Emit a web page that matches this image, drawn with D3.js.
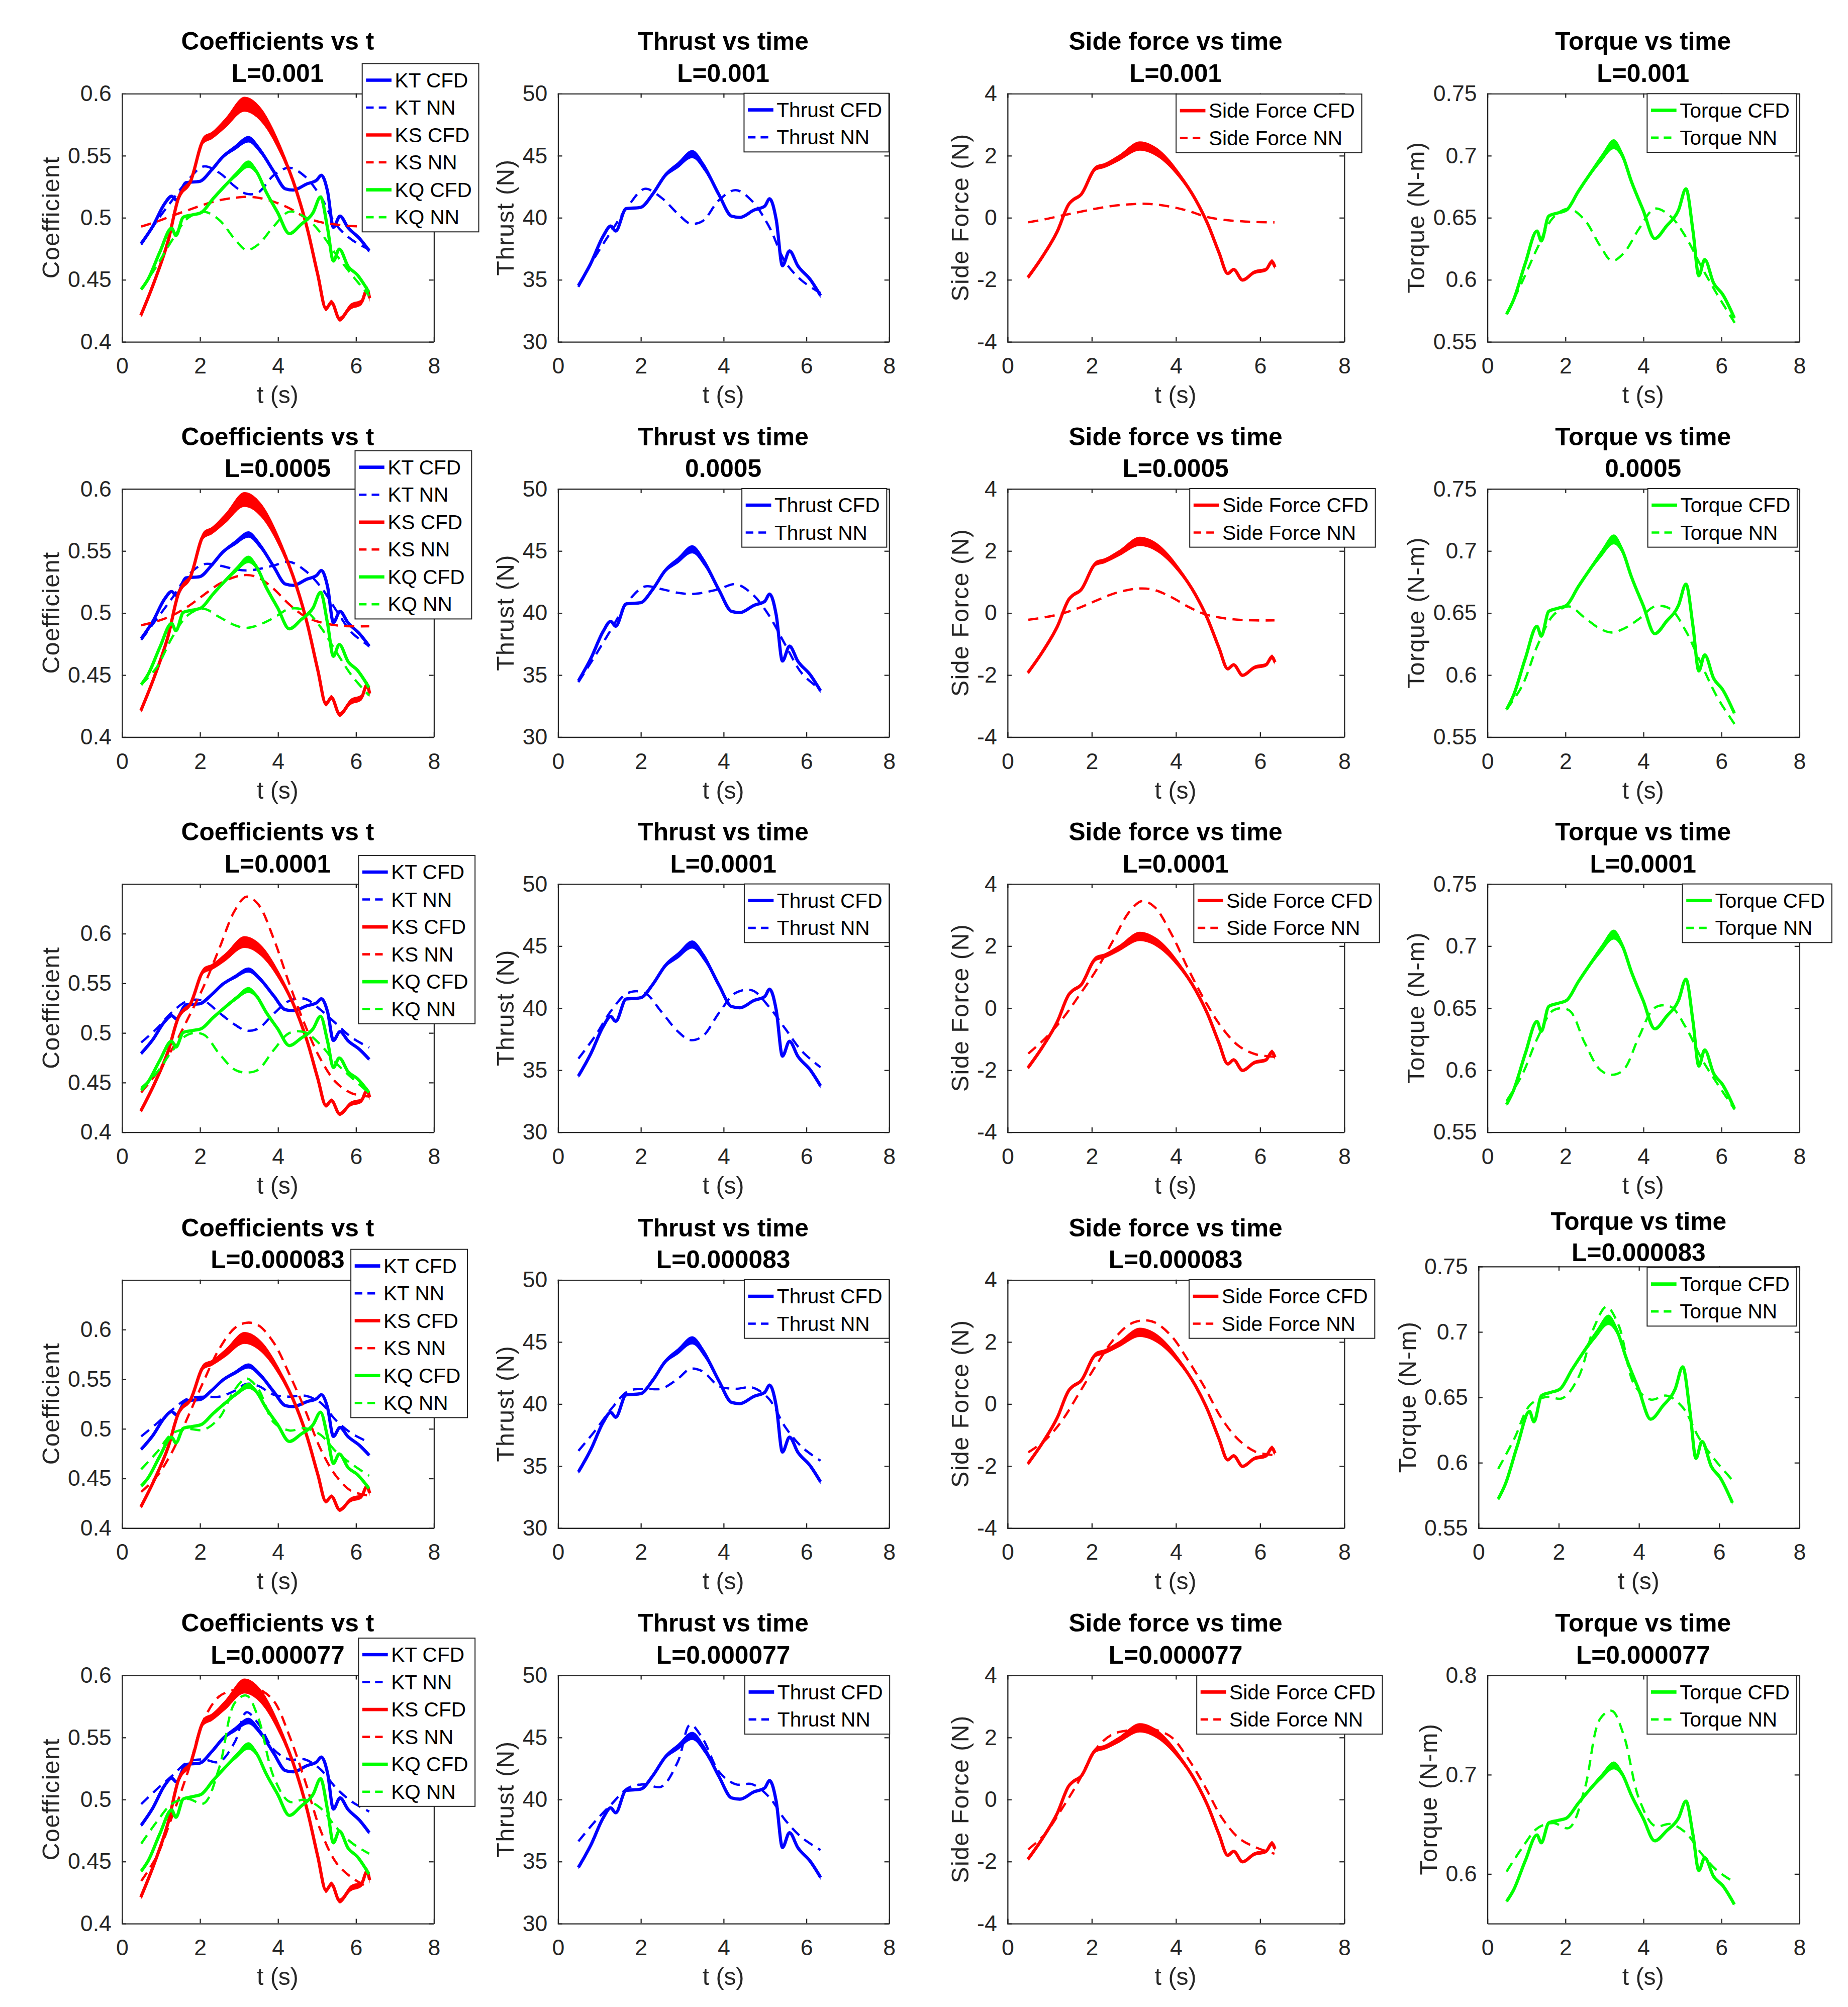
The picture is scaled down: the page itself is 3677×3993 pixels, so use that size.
<!DOCTYPE html>
<html>
<head>
<meta charset="utf-8">
<script src="https://cdn.jsdelivr.net/npm/d3@7"></script>
<style>
body{margin:0;background:#fff;}
svg{display:block;font-family:"Liberation Sans",Arial,Helvetica,sans-serif;}
</style>
</head>
<body>
<script>
// ---- CFD traces (same in every row) ----
var tThrust = [0.5,0.8,1.1,1.28,1.4,1.65,2.0,2.3,2.6,2.9,3.25,3.55,3.9,4.2,4.4,4.75,5.0,5.12,5.28,5.43,5.6,5.8,6.1,6.35];
var thrustCFD = [34.5,36.3,38.5,39.3,38.9,40.7,40.8,41.9,43.4,44.2,45.1,44.0,41.8,40.1,40.0,40.6,40.9,41.5,39.8,36.1,37.3,36.1,35.0,33.7];
var thrustSpread = [0.15,0.1,0.1,0.1,0.1,0.1,0.1,0.12,0.18,0.25,0.33,0.3,0.18,0.1,0.1,0.1,0.1,0.1,0.1,0.1,0.1,0.12,0.15,0.2];
var ktCFD = [0.479,0.493,0.511,0.517,0.514,0.528,0.529,0.538,0.549,0.556,0.563,0.554,0.537,0.523,0.522,0.527,0.530,0.534,0.521,0.492,0.501,0.492,0.483,0.473];
var ktSpread = [0.0012,0.0008,0.0008,0.0008,0.0008,0.0008,0.0008,0.001,0.0014,0.002,0.0026,0.0024,0.0014,0.0008,0.0008,0.0008,0.0008,0.0008,0.0008,0.0008,0.0008,0.001,0.0012,0.0016];

var tSide = [0.49,0.84,1.19,1.47,1.55,1.75,2.1,2.31,2.66,3.15,3.57,4.06,4.48,4.76,5.03,5.24,5.38,5.59,5.87,6.15,6.29,6.36];
var sideCFD = [-1.94,-1.26,-0.45,0.44,0.55,0.73,1.58,1.67,1.92,2.3,2.09,1.41,0.56,-0.2,-1.13,-1.81,-1.68,-2.02,-1.77,-1.68,-1.43,-1.6];
var sideSpread = [0.06,0.05,0.05,0.06,0.06,0.06,0.08,0.08,0.1,0.15,0.14,0.1,0.06,0.05,0.05,0.05,0.05,0.05,0.06,0.06,0.08,0.08];
var ksCFD = [0.421,0.4485,0.481,0.5166,0.521,0.528,0.5624,0.566,0.576,0.5912,0.5828,0.5555,0.5215,0.491,0.4537,0.4264,0.4316,0.418,0.428,0.4316,0.4417,0.4348];
var ksSpread = [0.0024,0.002,0.002,0.0024,0.0024,0.0024,0.003,0.003,0.004,0.006,0.0056,0.004,0.0024,0.002,0.002,0.002,0.002,0.002,0.0024,0.0024,0.003,0.003];

var tTorque = [0.5,0.68,0.98,1.28,1.39,1.58,1.81,2.04,2.34,2.64,2.94,3.25,3.47,3.7,4.0,4.3,4.6,4.91,5.1,5.28,5.43,5.58,5.81,6.04,6.34];
var torqueCFD = [0.572,0.5835,0.613,0.639,0.631,0.651,0.6535,0.656,0.671,0.685,0.698,0.709,0.700,0.679,0.656,0.633,0.643,0.656,0.673,0.639,0.603,0.616,0.597,0.588,0.569];
var torqueSpread = [0.001,0.001,0.001,0.001,0.001,0.001,0.001,0.001,0.0015,0.002,0.003,0.004,0.003,0.002,0.001,0.001,0.001,0.001,0.001,0.001,0.001,0.001,0.0012,0.0015,0.0015];
var kqCFD = [0.4420,0.4504,0.4722,0.4913,0.4854,0.5002,0.5020,0.5039,0.5149,0.5252,0.5348,0.5429,0.5363,0.5208,0.5039,0.4869,0.4943,0.5039,0.5164,0.4913,0.4648,0.4744,0.4604,0.4538,0.4398];
var kqSpread = [0.0008,0.0008,0.0008,0.0008,0.0008,0.0008,0.0008,0.0008,0.0011,0.0015,0.0022,0.003,0.0022,0.0015,0.0008,0.0008,0.0008,0.0008,0.0008,0.0008,0.0008,0.0008,0.0009,0.0011,0.0011];

// ---- NN predictions, one row per L value ----
var tNN = [0.5,0.9,1.3,1.7,2.1,2.5,2.9,3.2,3.5,3.9,4.3,4.7,5.1,5.5,5.9,6.35];

var thrustNN = [
  [34.4,36.8,38.9,40.9,42.3,41.6,40.3,39.5,39.7,41.4,42.2,41.3,39.3,36.4,34.9,33.9],
  [34.4,36.5,38.7,40.9,42.1,41.9,41.6,41.5,41.6,41.9,42.3,41.5,39.8,37.4,35.1,33.8],
  [35.9,37.7,39.8,41.2,41.2,39.7,38.1,37.4,37.7,39.6,41.2,41.4,40.1,38.3,36.5,35.2],
  [36.2,37.8,39.6,41.0,41.2,41.2,42.0,42.8,42.6,41.4,41.2,41.3,40.4,38.1,36.5,35.4],
  [36.6,38.2,39.6,40.9,41.2,41.0,43.0,46.0,44.9,42.2,41.2,41.2,40.2,38.3,36.9,35.9]
];
var ktNN = [
  [0.478,0.497,0.514,0.530,0.541,0.536,0.525,0.519,0.520,0.534,0.540,0.533,0.517,0.494,0.482,0.474],
  [0.478,0.495,0.512,0.530,0.539,0.538,0.535,0.534,0.535,0.538,0.541,0.534,0.521,0.502,0.484,0.473],
  [0.490,0.504,0.521,0.532,0.532,0.520,0.508,0.502,0.504,0.519,0.532,0.534,0.523,0.509,0.495,0.485],
  [0.492,0.505,0.519,0.530,0.532,0.532,0.538,0.545,0.543,0.534,0.532,0.533,0.526,0.508,0.495,0.486],
  [0.496,0.508,0.519,0.530,0.532,0.530,0.546,0.570,0.561,0.540,0.532,0.532,0.524,0.509,0.498,0.490]
];
var sideNN = [
  [-0.16,-0.06,0.06,0.17,0.28,0.37,0.42,0.44,0.42,0.34,0.21,0.03,-0.07,-0.12,-0.15,-0.16],
  [-0.23,-0.15,-0.03,0.15,0.38,0.60,0.74,0.78,0.73,0.50,0.19,-0.05,-0.17,-0.23,-0.25,-0.25],
  [-1.48,-0.99,-0.38,0.38,1.18,2.13,3.09,3.44,3.25,2.38,1.25,0.22,-0.64,-1.23,-1.50,-1.58],
  [-1.57,-1.18,-0.55,0.32,1.21,2.02,2.55,2.68,2.62,2.18,1.39,0.50,-0.49,-1.17,-1.55,-1.66],
  [-1.62,-1.12,-0.31,0.58,1.61,2.09,2.23,2.33,2.25,2.0,1.30,0.40,-0.60,-1.25,-1.55,-1.76]
];
var ksNN = [
  [0.4926,0.4966,0.5014,0.5058,0.5102,0.5138,0.5158,0.5166,0.5158,0.5126,0.5074,0.5002,0.4962,0.4942,0.4930,0.4926],
  [0.4898,0.4930,0.4978,0.5050,0.5142,0.5231,0.5287,0.5303,0.5283,0.5191,0.5066,0.4970,0.4922,0.4898,0.4890,0.4890],
  [0.4397,0.4593,0.4838,0.5142,0.5463,0.5844,0.6229,0.6369,0.6293,0.5944,0.5491,0.5078,0.4733,0.4497,0.4389,0.4356],
  [0.4360,0.4517,0.4769,0.5118,0.5475,0.5800,0.6012,0.6065,0.6041,0.5864,0.5547,0.5191,0.4794,0.4521,0.4368,0.4324],
  [0.4340,0.4541,0.4866,0.5223,0.5636,0.5828,0.5884,0.5924,0.5892,0.5792,0.5511,0.5150,0.4749,0.4489,0.4368,0.4284]
];
var torqueNN = [
  [0.572,0.598,0.626,0.650,0.657,0.648,0.627,0.615,0.621,0.641,0.657,0.651,0.634,0.610,0.588,0.565],
  [0.572,0.591,0.624,0.648,0.655,0.646,0.637,0.634,0.637,0.645,0.655,0.653,0.635,0.608,0.582,0.560],
  [0.575,0.596,0.626,0.648,0.648,0.622,0.600,0.596,0.600,0.627,0.650,0.651,0.634,0.609,0.589,0.568],
  [0.595,0.618,0.644,0.650,0.649,0.665,0.704,0.719,0.705,0.659,0.648,0.651,0.642,0.619,0.602,0.586],
  [0.602,0.626,0.646,0.651,0.646,0.685,0.756,0.764,0.740,0.675,0.648,0.650,0.641,0.620,0.603,0.591]
];
var kqNN = [
  [0.4420,0.4610,0.4820,0.4995,0.5046,0.4980,0.4825,0.4737,0.4781,0.4928,0.5046,0.5002,0.4877,0.4700,0.4538,0.4368],
  [0.4420,0.4560,0.4803,0.4980,0.5031,0.4965,0.4899,0.4877,0.4899,0.4958,0.5031,0.5017,0.4884,0.4685,0.4493,0.4331],
  [0.4442,0.4597,0.4818,0.4980,0.4980,0.4788,0.4626,0.4597,0.4626,0.4825,0.4995,0.5002,0.4877,0.4692,0.4545,0.4390],
  [0.4589,0.4759,0.4950,0.4995,0.4987,0.5105,0.5392,0.5503,0.5400,0.5061,0.4980,0.5002,0.4936,0.4766,0.4641,0.4523],
  [0.4641,0.4818,0.4965,0.5002,0.4965,0.5252,0.5776,0.5835,0.5658,0.5179,0.4980,0.4995,0.4928,0.4773,0.4648,0.4560]
];

// ---- text ----
var titles = ["Coefficients vs t", "Thrust vs time", "Side force vs time", "Torque vs time"];
var subtitles = [
  ["L=0.001", "L=0.001", "L=0.001", "L=0.001"],
  ["L=0.0005", "0.0005", "L=0.0005", "0.0005"],
  ["L=0.0001", "L=0.0001", "L=0.0001", "L=0.0001"],
  ["L=0.000083", "L=0.000083", "L=0.000083", "L=0.000083"],
  ["L=0.000077", "L=0.000077", "L=0.000077", "L=0.000077"]
];
var yLabels = ["Coefficient", "Thrust (N)", "Side Force (N)", "Torque (N-m)"];
var xTicks = [0, 2, 4, 6, 8];
var xTickLabels = ["0", "2", "4", "6", "8"];
var coefTicks = [0.4, 0.45, 0.5, 0.55, 0.6];
var coefTickLabels = ["0.4", "0.45", "0.5", "0.55", "0.6"];
var thrustTicks = [30, 35, 40, 45, 50];
var thrustTickLabels = ["30", "35", "40", "45", "50"];
var sideTicks = [-4, -2, 0, 2, 4];
var sideTickLabels = ["-4", "-2", "0", "2", "4"];
var torqueTicks = [0.55, 0.6, 0.65, 0.7, 0.75];
var torqueTickLabels = ["0.55", "0.6", "0.65", "0.7", "0.75"];
var torqueTicks5 = [0.6, 0.7, 0.8];
var torqueTickLabels5 = ["0.6", "0.7", "0.8"];

// ---- layout (in reference pixels, scaled by the viewBox) ----
var W = 3677, H = 3993, k = W / 1450, VH = H / k;
var colX = [[95.5, 340.2], [437.6, 697.4], [790.3, 1054.5], [1166.8, 1411.6]];
var rowTop = [73.2, 383.3, 693.3, 1003.9, 1314.2], axH = 194.7;
var legendPos = [
  [[284.2, 49.9], [583.8, 73.2], [922.8, 73.8], [1292.4, 73.5]],
  [[278.6, 353.6], [582.1, 383.3], [933.5, 383.3], [1292.9, 383.3]],
  [[281.3, 671.2], [584, 693.5], [936.7, 693.5], [1320.1, 693.5]],
  [[275.3, 980.2], [584, 1004], [933, 1004], [1292.4, 994.4]],
  [[281.3, 1285.2], [584.4, 1314.5], [939, 1314.5], [1292.4, 1314.5]]
];
var blue = "#0000ff", red = "#ff0000", green = "#00ff00", ink = "#262626";

var svg = d3.select("body").append("svg")
  .attr("width", W).attr("height", H)
  .attr("viewBox", "0 0 1450 " + VH);
svg.append("rect").attr("width", 1450).attr("height", VH).attr("fill", "#fff");

function cfd(t, v, s) { return t.map(function(d, i) { return {t: d, v: v[i], s: s[i]}; }); }
function nn(v) { return tNN.map(function(d, i) { return {t: d, v: v[i]}; }); }

function seriesFor(r, c) {
  if (c === 0) return [
    {name: "KT CFD", color: blue, cfd: cfd(tThrust, ktCFD, ktSpread)},
    {name: "KT NN", color: blue, nn: nn(ktNN[r])},
    {name: "KS CFD", color: red, cfd: cfd(tSide, ksCFD, ksSpread)},
    {name: "KS NN", color: red, nn: nn(ksNN[r])},
    {name: "KQ CFD", color: green, cfd: cfd(tTorque, kqCFD, kqSpread)},
    {name: "KQ NN", color: green, nn: nn(kqNN[r])}
  ];
  if (c === 1) return [
    {name: "Thrust CFD", color: blue, cfd: cfd(tThrust, thrustCFD, thrustSpread)},
    {name: "Thrust NN", color: blue, nn: nn(thrustNN[r])}
  ];
  if (c === 2) return [
    {name: "Side Force CFD", color: red, cfd: cfd(tSide, sideCFD, sideSpread)},
    {name: "Side Force NN", color: red, nn: nn(sideNN[r])}
  ];
  return [
    {name: "Torque CFD", color: green, cfd: cfd(tTorque, torqueCFD, torqueSpread)},
    {name: "Torque NN", color: green, nn: nn(torqueNN[r])}
  ];
}

function yInfo(r, c) {
  if (c === 0) return {dom: (r === 2 || r === 3) ? [0.4, 0.65] : [0.4, 0.6], ticks: coefTicks, labels: coefTickLabels};
  if (c === 1) return {dom: [30, 50], ticks: thrustTicks, labels: thrustTickLabels};
  if (c === 2) return {dom: [-4, 4], ticks: sideTicks, labels: sideTickLabels};
  if (r === 4) return {dom: [0.55, 0.8], ticks: torqueTicks5, labels: torqueTickLabels5};
  return {dom: [0.55, 0.75], ticks: torqueTicks, labels: torqueTickLabels};
}

function styleAxis(g, fs) {
  g.attr("font-size", fs).attr("font-family", null);
  g.select(".domain").attr("stroke", ink).attr("stroke-width", 0.9);
  g.selectAll(".tick line").attr("stroke", ink).attr("stroke-width", 0.9);
  g.selectAll(".tick text").attr("fill", ink);
}

function drawPanel(r, c) {
  var x0 = colX[c][0], x1 = colX[c][1], y0 = rowTop[r];
  var off1 = 34, off2 = 8.9;
  if (r === 3 && c === 3) { x0 = 1159.8; y0 = 993.4; off1 = 28.4; off2 = 3.9; }
  var y1 = rowTop[r] + axH;
  var yi = yInfo(r, c);

  var x = d3.scaleLinear().domain([0, 8]).range([x0, x1]);
  var y = d3.scaleLinear().domain(yi.dom).range([y1, y0]);
  var g = svg.append("g");

  // lines
  var band = d3.area().curve(d3.curveMonotoneX)
    .x(function(d) { return x(d.t); })
    .y0(function(d) { return y(d.v - d.s); })
    .y1(function(d) { return y(d.v + d.s); });
  var cline = d3.line().curve(d3.curveMonotoneX)
    .x(function(d) { return x(d.t); }).y(function(d) { return y(d.v); });
  var nline = d3.line().curve(d3.curveCatmullRom)
    .x(function(d) { return x(d.t); }).y(function(d) { return y(d.v); });

  var ser = seriesFor(r, c);
  ser.forEach(function(s) {
    if (s.cfd) {
      g.append("path").datum(s.cfd).attr("d", band).attr("fill", s.color);
      g.append("path").datum(s.cfd).attr("d", cline)
        .attr("fill", "none").attr("stroke", s.color).attr("stroke-width", 2.5)
        .attr("stroke-linejoin", "round");
    } else {
      g.append("path").datum(s.nn).attr("d", nline)
        .attr("fill", "none").attr("stroke", s.color).attr("stroke-width", 1.8)
        .attr("stroke-dasharray", "8,5");
    }
  });

  // axes (box with inward ticks)
  var ax = g.append("g").attr("transform", "translate(0," + y1 + ")")
    .call(d3.axisBottom(x).tickValues(xTicks).tickFormat(function(d, i) { return xTickLabels[i]; })
      .tickSizeInner(-3.5).tickSizeOuter(0).tickPadding(12.7));
  styleAxis(ax, 17.6);
  var ay = g.append("g").attr("transform", "translate(" + x0 + ",0)")
    .call(d3.axisLeft(y).tickValues(yi.ticks).tickFormat(function(d, i) { return yi.labels[i]; })
      .tickSizeInner(-3.5).tickSizeOuter(0).tickPadding(8));
  styleAxis(ay, 17.6);
  var at = g.append("g").attr("transform", "translate(0," + y0 + ")")
    .call(d3.axisTop(x).tickValues(xTicks).tickFormat("").tickSizeInner(-3.5).tickSizeOuter(0));
  styleAxis(at, 17.6);
  var ar = g.append("g").attr("transform", "translate(" + x1 + ",0)")
    .call(d3.axisRight(y).tickValues(yi.ticks).tickFormat("").tickSizeInner(-3.5).tickSizeOuter(0));
  styleAxis(ar, 17.6);

  // labels
  var bb = ay.node().getBBox();
  var lx = x0 + bb.x - 13.5;
  g.append("text").attr("transform", "translate(" + lx + "," + ((y0 + y1) / 2) + ") rotate(-90)")
    .attr("text-anchor", "middle").attr("dy", "0.35em")
    .attr("font-size", 19).attr("fill", ink).attr("letter-spacing", 0.6)
    .text(yLabels[c]);
  g.append("text").attr("x", (x0 + x1) / 2).attr("y", y1 + 48.5)
    .attr("text-anchor", "middle").attr("font-size", 19).attr("fill", ink)
    .text("t (s)");
  g.append("text").attr("x", (x0 + x1) / 2).attr("y", y0 - off1)
    .attr("text-anchor", "middle").attr("font-size", 19.6).attr("font-weight", "bold")
    .attr("fill", "#000").text(titles[c]);
  g.append("text").attr("x", (x0 + x1) / 2).attr("y", y0 - off2)
    .attr("text-anchor", "middle").attr("font-size", 19.6).attr("font-weight", "bold")
    .attr("fill", "#000").text(subtitles[r][c]);

  // legend
  var lp = legendPos[r][c];
  var lg = g.append("g").attr("transform", "translate(" + lp[0] + "," + lp[1] + ")");
  var box = lg.append("rect").attr("fill", "#fff").attr("stroke", ink).attr("stroke-width", 0.8);
  var maxW = 0;
  ser.forEach(function(s, i) {
    var yy = 13 + i * 21.5;
    lg.append("line").attr("x1", 3).attr("x2", 23).attr("y1", yy).attr("y2", yy)
      .attr("stroke", s.color).attr("stroke-width", s.cfd ? 2.6 : 1.8)
      .attr("stroke-dasharray", s.cfd ? null : "6,4");
    var tx = lg.append("text").attr("x", 25.6).attr("y", yy).attr("dy", "0.35em")
      .attr("font-size", 16).attr("fill", "#000").text(s.name);
    maxW = Math.max(maxW, tx.node().getComputedTextLength());
  });
  box.attr("width", maxW + 31).attr("height", 13 + (ser.length - 1) * 21.5 + 11.5);
}

for (var r = 0; r < 5; r++) {
  for (var c = 0; c < 4; c++) drawPanel(r, c);
}
</script>
</body>
</html>
